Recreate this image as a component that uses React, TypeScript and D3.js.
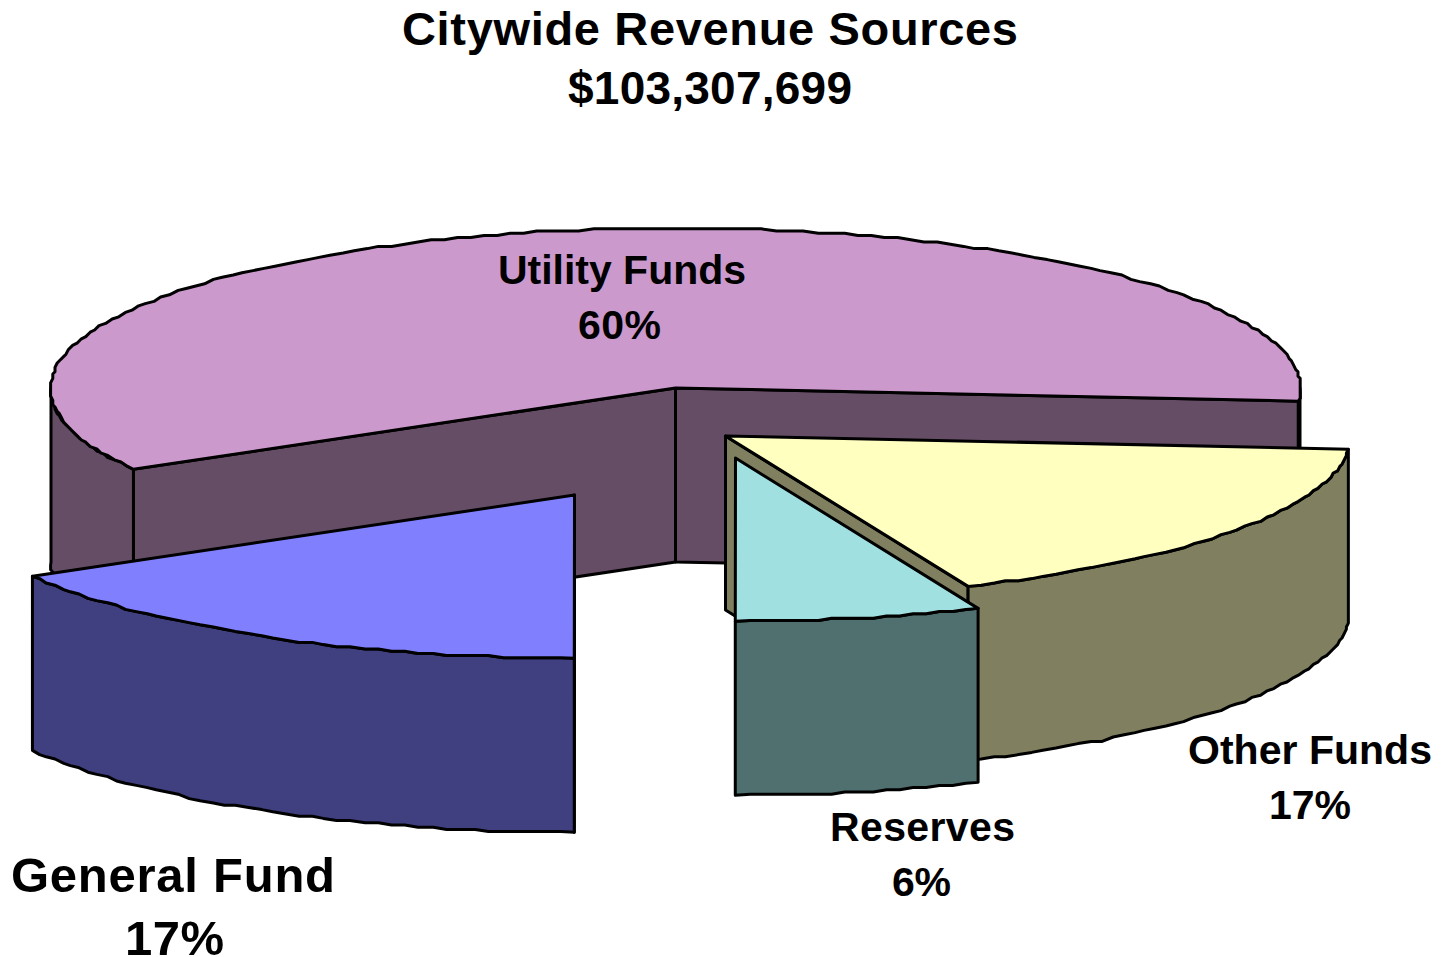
import * as d3 from "d3";

const categories = ["Other Funds", "Reserves", "General Fund", "Utility Funds"];
const shares = [17.4, 6.3, 16.6, 59.7];
const shareLabels = ["17%", "6%", "17%", "60%"];
const topColors = ["#ffffc0", "#a0e0e0", "#8080ff", "#cc99cc"];
const sideColors = ["#808060", "#507070", "#404080", "#664d66"];
const titleLines = ["Citywide Revenue Sources", "$103,307,699"];

const width = 1442;
const height = 957;
const cx = 675.5;
const cy = 388;
const rx = 624.5;
const ry = 160;
const depth = 174;
const font = "'Liberation Sans', Arial, sans-serif";

// how far each slice is pulled out of the pie, same order as categories
const explode = [
  [50, 48],
  [60, 70],
  [-101, 107],
  [0, 0],
];
// w = drawn width of the name, pw = drawn width of the percent
const labelPos = [
  { x: 1310, y: 764, py: 819, size: 41, w: 244, px: 1310, pw: 82 },
  { x: 922.5, y: 841, py: 896, size: 41, w: 185, px: 921.5, pw: 59 },
  { x: 173, y: 892, py: 955, size: 49, w: 324, px: 174.5, pw: 99 },
  { x: 622, y: 284, py: 339, size: 41, w: 248, px: 619.5, pw: 83 },
];

const deg = Math.PI / 180;
const pie = d3
  .pie<number>()
  .sort(null)
  .startAngle(94.7 * deg)
  .endAngle(454.7 * deg);
const arcs = pie(shares);

// the original is a low-res metafile, its curves sit on a coarse grid
const snap = (v: number) => Math.round(v / 2.2) * 2.2;

// front of the pie is a little bigger than the back (perspective)
const project = (a: number, ox: number, oy: number): [number, number] => {
  const front = Math.max(0, -Math.cos(a));
  return [
    cx + ox + rx * (1 + 0.009 * front) * Math.sin(a),
    cy + oy - ry * (1 + 0.02 * front) * Math.cos(a),
  ];
};

const rim = (a0: number, a1: number, ox: number, oy: number) => {
  const n = Math.max(2, Math.ceil(Math.abs(a1 - a0) / (1.3 * deg)));
  return d3.range(n + 1).map((i) => {
    const a = a0 + ((a1 - a0) * i) / n;
    const [x, y] = project(a, ox, oy);
    return i === 0 || i === n ? ([x, y] as [number, number]) : ([snap(x), snap(y)] as [number, number]);
  });
};

const line = d3.line();

const wallRanges = (a0: number, a1: number) =>
  [
    [90 * deg, 270 * deg],
    [450 * deg, 630 * deg],
  ]
    .map(([lo, hi]) => [Math.max(a0, lo), Math.min(a1, hi)])
    .filter(([lo, hi]) => hi > lo);

function Slice({ i }: { i: number }) {
  const { startAngle: a0, endAngle: a1 } = arcs[i];
  const [ox, oy] = explode[i];
  const apex: [number, number] = [cx + ox, cy + oy];
  const face = (a: number) => {
    const p = project(a, ox, oy);
    return (
      line([apex, p, [p[0], p[1] + depth], [apex[0], apex[1] + depth]]) + "Z"
    );
  };
  const stroke = { stroke: "#000", strokeWidth: 3, strokeLinejoin: "round" as const };
  return (
    <g>
      {Math.sin(a0) < 0 && <path d={face(a0)} fill={sideColors[i]} {...stroke} />}
      {Math.sin(a1) > 0 && <path d={face(a1)} fill={sideColors[i]} {...stroke} />}
      {wallRanges(a0, a1).map(([lo, hi], k) => {
        const upper = rim(lo, hi, ox, oy);
        const lower = rim(hi, lo, ox, oy + depth);
        return (
          <path
            key={k}
            d={line([...upper, ...lower]) + "Z"}
            fill={sideColors[i]}
            {...stroke}
          />
        );
      })}
      <path
        d={line([apex, ...rim(a0, a1, ox, oy)]) + "Z"}
        fill={topColors[i]}
        {...stroke}
      />
    </g>
  );
}

export default function App() {
  return (
    <svg
      width={width}
      height={height}
      style={{ position: "absolute", left: 0, top: 0, background: "#fff" }}
      fontFamily={font}
      fontWeight="bold"
      textAnchor="middle"
      fill="#000"
    >
      <text x={710} y={45} fontSize={47} textLength={616} lengthAdjust="spacing">
        {titleLines[0]}
      </text>
      <text x={710} y={104} fontSize={46} textLength={284} lengthAdjust="spacing">
        {titleLines[1]}
      </text>
      {[3, 0, 1, 2].map((i) => (
        <Slice key={i} i={i} />
      ))}
      {categories.map((c, i) => {
        const l = labelPos[i];
        return (
          <g key={c} fontSize={l.size}>
            <text x={l.x} y={l.y} textLength={l.w} lengthAdjust="spacing">
              {c}
            </text>
            <text x={l.px} y={l.py} textLength={l.pw} lengthAdjust="spacing">
              {shareLabels[i]}
            </text>
          </g>
        );
      })}
    </svg>
  );
}
